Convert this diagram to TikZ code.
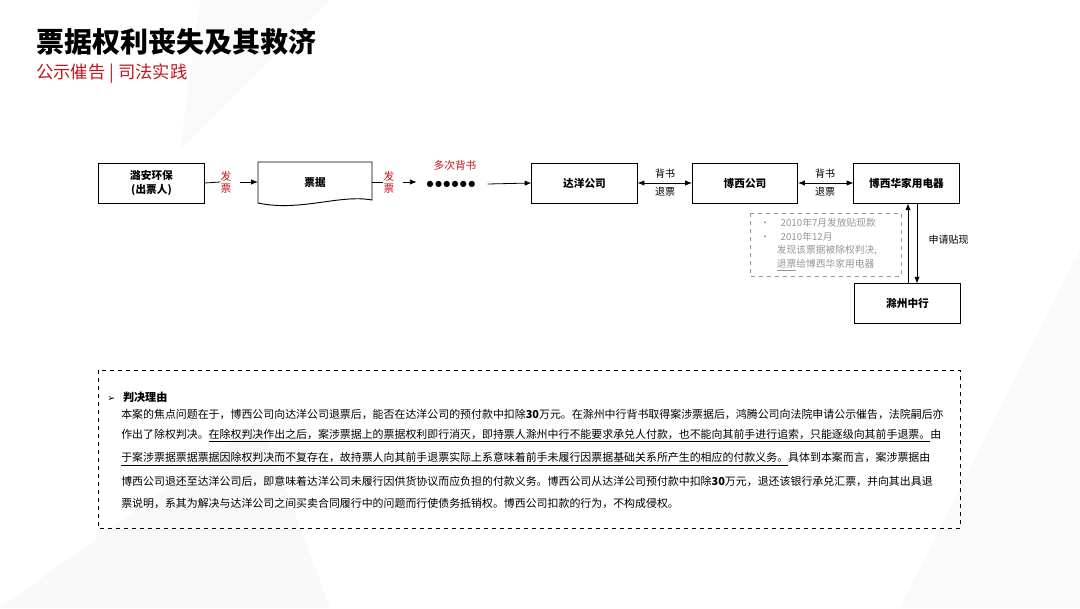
\documentclass[tikz,border=0pt]{standalone}
\usepackage{fontspec}
\setmainfont{Noto Sans CJK SC}
\newfontfamily\dejavu{DejaVu Sans}
\usetikzlibrary{arrows.meta}
\definecolor{myred}{RGB}{200,20,30}
\definecolor{mygray}{RGB}{150,150,150}
\begin{document}
\begin{tikzpicture}[x=0.75pt,y=-0.75pt,
  box/.style={draw,line width=0.7pt,minimum width=79pt,minimum height=30pt,inner sep=1pt,font=\fontsize{8}{10}\selectfont\bfseries},
  arr/.style={-{Latex[length=5pt,width=4pt]},line width=0.6pt},
  darr/.style={{Latex[length=5pt,width=4pt]}-{Latex[length=5pt,width=4pt]},line width=0.6pt},
  lbl/.style={font=\fontsize{7.5}{9}\selectfont},
  redl/.style={font=\fontsize{8}{9}\selectfont,text=myred,align=center,inner sep=0pt},
  body/.style={anchor=west,inner sep=0pt,font=\fontsize{8.2}{10}\selectfont}]
\useasboundingbox (0,0) rectangle (1080,608);
\fill[white] (0,0) rectangle (1080,608);
\fill[gray!5] (0,608) -- (260,420) -- (330,608) -- cycle;
\fill[gray!4] (1080,250) -- (900,608) -- (1080,608) -- cycle;
\fill[gray!4] (200,0) -- (330,0) -- (180,150) -- cycle;
% titles
\node[anchor=west,inner sep=0pt,font=\fontsize{21}{24}\selectfont\bfseries] (title) at (36,42) {票据权利丧失及其救济};
\node[anchor=west,inner sep=0pt,font=\fontsize{13}{15}\selectfont,text=myred] (sub) at (36,74) {公示催告 | 司法实践};
% flow
\node[box,align=center] (la) at (151.5,183) {潞安环保\\(出票人)};
\node[box,draw=none,minimum width=85pt] (pj) at (315,182) {票据};
\draw[line width=0.7pt] (258,162) -- (372,162) -- (372,200) .. controls (340,194) and (300,212) .. (258,203) -- cycle;
\node[redl] (fp1) at (226,182) {发\\票};
\node[redl] (fp2) at (389,182) {发\\票};
\node[inner sep=0pt,font=\dejavu\fontsize{6}{6}\selectfont] (dots) at (451,184) {●\,●\,●\,●\,●\,●};
\node[redl] (dcbs) at (455,165) {多次背书};
\node[box] (dy) at (584.5,183) {达洋公司};
\node[box] (bx) at (745,183) {博西公司};
\node[box] (bxh) at (906.5,183) {博西华家用电器};
\node[box] (cz) at (907.5,303) {滁州中行};
\draw[line width=0.6pt] (la.east) -- (fp1.west);
\draw[arr] (fp1.east) ++(8,0) -- (pj.west);
\draw[line width=0.6pt] (372,182) -- (fp2.west);
\draw[arr] (fp2.east) ++(8,0) -- +(14,0);
\draw[arr] (dots.east) ++(12,0) -- (dy.west);
\draw[darr] (dy.east) -- (bx.west);
\draw[darr] (bx.east) -- (bxh.west);
\node[lbl] (l1) at (665,174) {背书};
\node[lbl] (l2) at (665,192) {退票};
\node[lbl] (l3) at (825,174) {背书};
\node[lbl] (l4) at (825,192) {退票};
\draw[arr] (908,283.5) -- (908,203.5);
\draw[arr] (917,203.5) -- (917,283.5);
\node[lbl,anchor=west] (sq) at (924,240) {申请贴现};
\draw[dashed,mygray,line width=0.6pt] (750,213) rectangle (901,276);
\node[anchor=north west,inner sep=0pt,align=left,text=mygray,font=\fontsize{7.3}{10.2}\selectfont] (note) at (760,218)
 {•\hspace{8pt}2010年7月发放贴现款\\ •\hspace{8pt}2010年12月\\ \hspace{12.5pt}发现该票据被除权判决,\\ \hspace{12.5pt}\underline{退票}给博西华家用电器};
% reasons box
\draw[dashed,line width=0.6pt] (98,370) rectangle (960,528);
\node[body,font=\fontsize{8.3}{10}\selectfont\bfseries] (h) at (107,397) {{\dejavu\fontsize{7}{8}\selectfont ➢}\hspace{6pt}判决理由};
\node[body] (b1) at (121,414) {本案的焦点问题在于，博西公司向达洋公司退票后，能否在达洋公司的预付款中扣除\textbf{30}万元。在滁州中行背书取得案涉票据后，鸿腾公司向法院申请公示催告，法院嗣后亦};
\node[body] (b2) at (121,436) {作出了除权判决。\underline{在除权判决作出之后，案涉票据上的票据权利即行消灭，即持票人滁州中行不能要求承兑人付款，也不能向其前手进行追索，只能逐级向其前手退票。}由};
\node[body] (b3) at (121,459) {\underline{于案涉票据票据票据因除权判决而不复存在，故持票人向其前手退票实际上系意味着前手未履行因票据基础关系所产生的相应的付款义务。}具体到本案而言，案涉票据由};
\node[body] (b4) at (121,481) {博西公司退还至达洋公司后，即意味着达洋公司未履行因供货协议而应负担的付款义务。博西公司从达洋公司预付款中扣除\textbf{30}万元，退还该银行承兑汇票，并向其出具退};
\node[body] (b5) at (121,503) {票说明，系其为解决与达洋公司之间买卖合同履行中的问题而行使债务抵销权。博西公司扣款的行为，不构成侵权。};
\end{tikzpicture}
\end{document}
